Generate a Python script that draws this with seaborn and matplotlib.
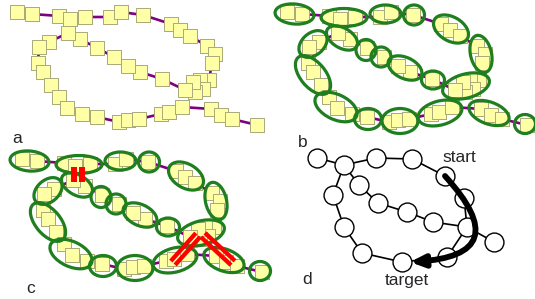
import matplotlib
matplotlib.use("Agg")
import matplotlib.pyplot as plt
from matplotlib.patches import Ellipse
import numpy as np
import pandas as pd
import seaborn as sns

# bead chain, panel a frame (pixels, y down)
bead_x = [17, 32, 59, 70, 85, 110, 121, 143, 171, 180, 190, 207, 215, 212, 209, 200,
          203, 195, 193, 185, 162, 140, 128, 114, 97, 80, 68, 49, 39, 38, 43, 51, 59,
          67, 82, 97, 119, 128, 139, 161, 169, 182, 211, 221, 232, 257]
bead_y = [12, 14, 16, 19, 17, 17, 12, 15, 24, 30, 36, 46, 54, 63, 80, 80,
          89, 92, 82, 90, 79, 72, 66, 57, 48, 39, 33, 42, 47, 63, 72, 85, 97,
          108, 114, 117, 122, 120, 119, 114, 112, 107, 109, 115, 119, 125]

# coarse-grained blobs, same frame: centre, width, height, tilt
blob_x = [24.5, 74, 115.5, 144, 181, 211, 43, 72, 96, 111, 135, 163, 196, 43, 66, 98, 130, 170, 219, 255]
blob_y = [14, 17.5, 14, 15, 29, 54, 44, 38, 50, 57, 68, 80, 86, 75, 107, 119, 121, 113, 113, 124]
blob_w = [39, 46, 31, 21, 38, 38, 32, 34, 20, 20, 36, 23, 48, 46, 45, 27, 36, 45, 42, 21]
blob_h = [20, 18, 18, 20, 24, 21, 22, 20, 21, 20, 21, 18, 24, 25, 25, 21, 25, 24, 22, 19]
blob_ang = [5, 0, 0, 0, 30, 77, -41, 30, 0, 0, 25, 0, -15, 50, 25, 0, 0, -15, 20, 0]

panel_off = {"a": (0, 0), "b": (270, 0), "c": (5, 147)}

# panel c contacts
contact_bars_x = [74, 81.5]
contact_bars_y = [(167, 182), (167, 182)]
cross_pairs = [((173, 263), (198, 235)), ((203, 235), (233, 263))]

# panel d graph
node_x = [317, 344, 376, 412, 445, 464, 467, 494, 447, 402, 362, 344, 333, 359, 378, 407, 433]
node_y = [158, 165, 158, 159, 176, 198, 227, 242, 257, 262, 253, 227, 195, 185, 203, 212, 222]
edges = [(0, 1), (1, 2), (2, 3), (3, 4), (4, 5), (5, 6), (6, 7), (6, 8), (8, 9), (9, 10),
         (10, 11), (11, 12), (12, 1), (1, 13), (13, 14), (14, 15), (15, 16), (16, 6)]
start_node, target_node = 4, 9

labels = {"a": (17, 143), "b": (303, 147), "c": (31, 293), "d": (307, 284)}

sns.set_style("white")
plt.rcParams["font.family"] = ["Liberation Sans", "DejaVu Sans"]

fig = plt.figure(figsize=(5.35, 2.99), dpi=100)
ax = fig.add_axes([0, 0, 1, 1])
ax.set_xlim(0, 535)
ax.set_ylim(299, 0)
ax.set_aspect("equal")
ax.axis("off")

beads = pd.DataFrame({"x": bead_x, "y": bead_y})
for key, (dx, dy) in panel_off.items():
    d = beads.assign(x=beads.x + dx, y=beads.y + dy)
    sns.lineplot(data=d, x="x", y="y", sort=False, estimator=None, color="#800080",
                 lw=1.9, ax=ax, zorder=1)
    sns.scatterplot(data=d.assign(x=d.x + 1, y=d.y + 1), x="x", y="y", marker="s", s=88,
                    color="#b8b8a8", linewidth=0, ax=ax, zorder=2)
    sns.scatterplot(data=d, x="x", y="y", marker="s", s=88, color="#ffffa6",
                    edgecolor="#a9a97a", linewidth=0.7, ax=ax, zorder=3)
    if key != "a":
        for bx, by, bw, bh, ba in zip(blob_x, blob_y, blob_w, blob_h, blob_ang):
            ax.add_patch(Ellipse((bx + dx, by + dy), bw, bh, angle=ba, fill=False,
                                 edgecolor="#1f7f1f", lw=2.3, zorder=4))

# contacts in panel c
for bx, (y0, y1) in zip(contact_bars_x, contact_bars_y):
    ax.plot([bx, bx], [y0, y1], color="red", lw=4.3, solid_capstyle="butt", zorder=5)
for (x0, y0), (x1, y1) in cross_pairs:
    v = np.array([x1 - x0, y1 - y0], float)
    n = np.array([-v[1], v[0]]) / np.hypot(*v) * 2.9
    for sgn in (-1, 1):
        ax.plot([x0 + sgn * n[0], x1 + sgn * n[0]], [y0 + sgn * n[1], y1 + sgn * n[1]],
                color="red", lw=3.1, solid_capstyle="butt", zorder=5)

# graph
for i, j in edges:
    ax.plot([node_x[i], node_x[j]], [node_y[i], node_y[j]], color="black", lw=1.2, zorder=1)
sns.scatterplot(x=node_x, y=node_y, s=185, color="white", edgecolor="black",
                linewidth=1.0, ax=ax, zorder=3)
ax.annotate("", xy=(node_x[target_node] + 8, node_y[target_node]),
            xytext=(node_x[start_node], node_y[start_node]),
            arrowprops=dict(arrowstyle="-|>,head_length=0.8,head_width=0.35", lw=4.2,
                            color="black", connectionstyle="arc3,rad=-1.05",
                            shrinkA=0, shrinkB=0), zorder=6)

for t, (x, y) in labels.items():
    ax.text(x, y, t, fontsize=12.5, ha="center", va="baseline")
ax.text(459, 162, "start", fontsize=12.5, ha="center", va="baseline")
ax.text(407, 285, "target", fontsize=12.5, ha="center", va="baseline")

if ax.get_legend() is not None:
    ax.get_legend().remove()
fig.savefig("out.png", dpi=100)
plt.close(fig)
